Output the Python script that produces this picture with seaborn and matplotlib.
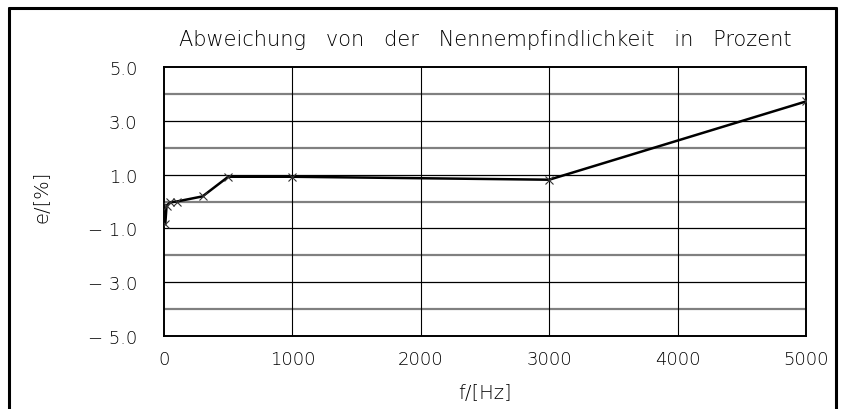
import matplotlib as mpl

mpl.use('Agg')
import matplotlib.pyplot as plt
import pandas as pd
import seaborn as sns
from matplotlib.lines import Line2D

sns.set_style('white')
plt.rcParams['font.family'] = ['DejaVu Sans']

# measured points
freq = [10, 20, 50, 100, 300, 500, 1000, 3000, 5000]
dev = [-0.84, -0.15, -0.03, 0.0, 0.19, 0.92, 0.92, 0.81, 3.72]

x_ticks = [0, 1000, 2000, 3000, 4000, 5000]
y_ticks = [-5.0, -3.0, -1.0, 1.0, 3.0, 5.0]
y_minor = [-4.0, -2.0, 0.0, 2.0, 4.0]

title = "Abweichung   von   der   Nennempfindlichkeit   in   Prozent"
xlab = "f/[Hz]"
ylab = "e/[%]"

txt_color = 'black'
df = pd.DataFrame({'f': freq, 'e': dev})

fig = plt.figure(figsize=(8.44, 4.10), dpi=100)
ax = fig.add_axes([164 / 844, 1 - 337 / 410, (806 - 164) / 844, (337 - 68) / 410])

for y in y_minor:
    ax.axhline(y, color='#808080', lw=1.6, zorder=1)
for y in y_ticks[1:-1]:
    ax.axhline(y, color='black', lw=0.9, zorder=1)
for x in x_ticks[1:-1]:
    ax.axvline(x, color='black', lw=0.8, zorder=1)

sns.lineplot(data=df, x='f', y='e', color='black', lw=1.8,
             marker='x', markersize=6, markeredgewidth=0.8,
             markeredgecolor='#333333', sort=False, ax=ax, zorder=3)

ax.set_xlim(0, 5000)
ax.set_ylim(-5, 5)
ax.set_xticks(x_ticks)
ax.set_xticklabels([str(v) for v in x_ticks])
ax.set_yticks(y_ticks)
ax.set_yticklabels([f"{v:.1f}".replace('-', '\u2212 ') for v in y_ticks])
ax.tick_params(length=0, labelsize=13, labelcolor=txt_color)
ax.tick_params(axis='y', pad=19)
ax.tick_params(axis='x', pad=10)
for lab in ax.get_xticklabels() + ax.get_yticklabels():
    lab.set_fontweight('light')

ax.set_xlabel(xlab, fontsize=14, color=txt_color, fontweight='light')
ax.set_ylabel(ylab, fontsize=14, color=txt_color, fontweight='light')
ax.xaxis.set_label_coords(0.5, -0.175)
ax.yaxis.set_label_coords(-0.175, 0.52)
ax.text(0.5, 1.104, title, transform=ax.transAxes, ha='center', va='center',
        fontsize=15, color=txt_color, fontweight='light')

for s in ax.spines.values():
    s.set_color('black')
    s.set_linewidth(1.4)

# outer frame (left, top, right)
fig.add_artist(Line2D([9 / 844, 9 / 844], [0, 1 - 9 / 410], color='black', lw=2.2))
fig.add_artist(Line2D([9 / 844, 836 / 844], [1 - 9 / 410, 1 - 9 / 410], color='black', lw=2.2))
fig.add_artist(Line2D([836 / 844, 836 / 844], [0, 1 - 9 / 410], color='black', lw=2.2))

plt.savefig('out.png', dpi=100)
